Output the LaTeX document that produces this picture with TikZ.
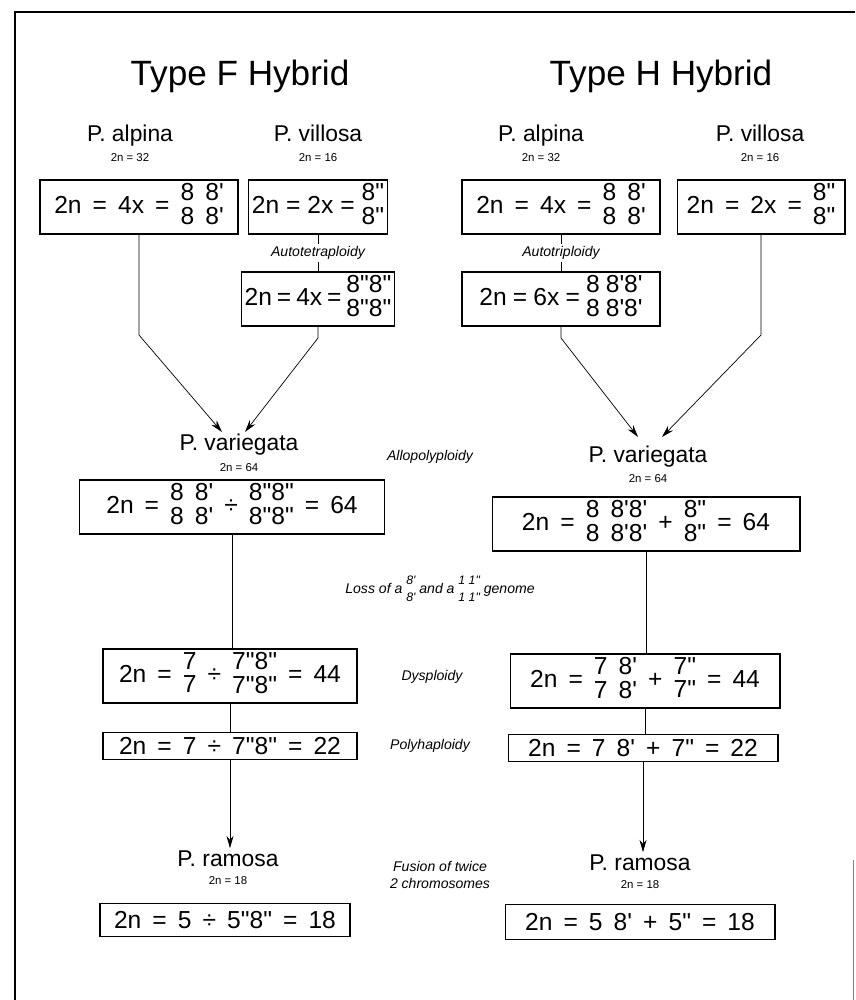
\documentclass[tikz,border=0pt]{standalone}
\usepackage{fontspec}
\setmainfont{Liberation Sans}
\usetikzlibrary{arrows.meta}
\newcommand\stk[2]{\begin{tabular}{@{}c@{}}#1\\#2\end{tabular}}
\newcommand\pr{\textquotesingle}
\newcommand\dpr{\textquotedbl}
\newcommand\eqfont{\fontsize{14}{12}\selectfont\spaceskip=0.45em plus 0.2em minus 0.1em}
\begin{document}
\begin{tikzpicture}[x=0.02cm, y=-0.02cm,
  every node/.style={inner sep=1pt},
  title/.style={font=\fontsize{20}{24}\selectfont, anchor=base},
  species/.style={font=\fontsize{13}{15}\selectfont, anchor=base},
  count/.style={font=\fontsize{6.5}{8}\selectfont, anchor=base},
  process/.style={font=\fontsize{8}{9.5}\selectfont\itshape, align=center},
  eqbox/.style={draw, line width=0.6pt, font=\eqfont, inner sep=2pt},
  >={Stealth[length=7pt, width=4pt]}]
\useasboundingbox (0,0) rectangle (855,1000);
% frame
\draw[line width=0.6pt] (855,12) -- (15,12) -- (15,1000);
\draw[line width=0.4pt, gray] (853,860) -- (853,1000);
% Type F
\node[title] (titleF) at (240,86) {Type F Hybrid};
\node[species] (alpinaF) at (130,142) {P. alpina};
\node[count] (cntAF) at (130,162) {2n = 32};
\node[species] (villosaF) at (318,142) {P. villosa};
\node[count] (cntVF) at (318,162) {2n = 16};
\node[eqbox, minimum width=3.96cm, minimum height=0.96cm] (boxAF) at (139,207)
  {2n = 4x = \stk{8 8\pr}{8 8\pr}};
\node[eqbox, minimum width=2.74cm, minimum height=0.96cm] (boxVF) at (318,207)
  {\spaceskip=0.28em 2n = 2x = \stk{8\dpr}{8\dpr}};
\node[process] (autotetra) at (318,253) {Autotetraploidy};
\node[eqbox, minimum width=2.74cm, minimum height=0.84cm] (boxVF2) at (318,299)
  {\spaceskip=0.2em 2n = 4x = \stk{8\dpr8\dpr}{8\dpr8\dpr}};
\node[species] (varF) at (239,450) {P. variegata};
\node[count] (cntVarF) at (239,471) {2n = 64};
\node[eqbox, minimum width=6.1cm, minimum height=0.9cm] (boxVarF) at (232,507)
  {2n = \stk{8 8\pr}{8 8\pr} ÷ \stk{8\dpr8\dpr}{8\dpr8\dpr} = 64};
\node[eqbox, minimum width=5.08cm, minimum height=0.86cm] (box44F) at (230,676)
  {2n = \stk{7}{7} ÷ \stk{7\dpr8\dpr}{7\dpr8\dpr} = 44};
\node[eqbox, minimum width=5.08cm, minimum height=0.54cm] (box22F) at (230,746)
  {2n = 7 ÷ 7\dpr8\dpr{} = 22};
\node[species] (ramosaF) at (228,866) {P. ramosa};
\node[count] (cntRF) at (228,884) {2n = 18};
\node[eqbox, minimum width=5cm, minimum height=0.66cm] (box18F) at (225,920)
  {2n = 5 ÷ 5\dpr8\dpr{} = 18};
% Type H
\node[title] (titleH) at (661,86) {Type H Hybrid};
\node[species] (alpinaH) at (541,142) {P. alpina};
\node[count] (cntAH) at (541,162) {2n = 32};
\node[species] (villosaH) at (760,142) {P. villosa};
\node[count] (cntVH) at (760,162) {2n = 16};
\node[eqbox, minimum width=3.96cm, minimum height=0.96cm] (boxAH) at (561,207)
  {2n = 4x = \stk{8 8\pr}{8 8\pr}};
\node[eqbox, minimum width=3.36cm, minimum height=0.96cm] (boxVH) at (761,207)
  {2n = 2x = \stk{8\dpr}{8\dpr}};
\node[process] (autotri) at (561,253) {Autotriploidy};
\node[eqbox, minimum width=3.96cm, minimum height=0.84cm] (boxAH2) at (561,299)
  {\spaceskip=0.25em 2n = 6x = \stk{8 8\pr8\pr}{8 8\pr8\pr}};
\node[species] (varH) at (648,462) {P. variegata};
\node[count] (cntVarH) at (648,482) {2n = 64};
\node[eqbox, minimum width=6.16cm, minimum height=0.9cm] (boxVarH) at (646,524)
  {2n = \stk{8 8\pr8\pr}{8 8\pr8\pr} + \stk{8\dpr}{8\dpr} = 64};
\node[eqbox, minimum width=5.4cm, minimum height=0.86cm] (box44H) at (645,681)
  {2n = \stk{7 8\pr}{7 8\pr} + \stk{7\dpr}{7\dpr} = 44};
\node[eqbox, minimum width=5.4cm, minimum height=0.54cm] (box22H) at (643,748)
  {2n = 7 8\pr{} + 7\dpr{} = 22};
\node[species] (ramosaH) at (640,870) {P. ramosa};
\node[count] (cntRH) at (640,888) {2n = 18};
\node[eqbox, minimum width=5.4cm, minimum height=0.7cm] (box18H) at (640,922)
  {2n = 5 8\pr{} + 5\dpr{} = 18};
% processes between the columns
\node[process] (allopoly) at (430,457) {Allopolyploidy};
\node[process] (loss) at (440,590)
  {Loss of a \stk{\scriptsize 8\pr}{\scriptsize 8\pr} and a \stk{\scriptsize 1 1\dpr}{\scriptsize 1 1\dpr} genome};
\node[process] (dys) at (432,677) {Dysploidy};
\node[process] (polyha) at (430,746) {Polyhaploidy};
\node[process] (fusion) at (440,875) {Fusion of twice\\2 chromosomes};
% connectors
\coordinate (kneeAF) at (139,335);
\coordinate (kneeVF) at (318,338);
\coordinate (tipAF) at (222,432);
\coordinate (tipVF) at (245,432);
\coordinate (kneeAH) at (561,338);
\coordinate (kneeVH) at (761,335);
\coordinate (tipAH) at (638,437);
\coordinate (tipVH) at (662,437);
\draw (boxVF.south) -- (autotetra.north);
\draw (autotetra.south) -- (boxVF2.north);
\draw (boxAH.south) -- (autotri.north);
\draw (autotri.south) -- (boxAH2.north);
\draw[->] (boxAF.south) -- (kneeAF) -- (tipAF);
\draw[->] (boxVF2.south) -- (kneeVF) -- (tipVF);
\draw[->] (boxAH2.south) -- (kneeAH) -- (tipAH);
\draw[->] (boxVH.south) -- (kneeVH) -- (tipVH);
\draw (boxVarF.south) -- (boxVarF.south |- box44F.north);
\draw (boxVarH.south) -- (boxVarH.south |- box44H.north);
\draw (box44F.south) -- (box44F.south |- box22F.north);
\draw (box44H.south) -- (box44H.south |- box22H.north);
\draw[->] (box22F.south) -- (box22F.south |- ramosaF.north);
\draw[->] (box22H.south) -- (box22H.south |- ramosaH.north);
\end{tikzpicture}
\end{document}
